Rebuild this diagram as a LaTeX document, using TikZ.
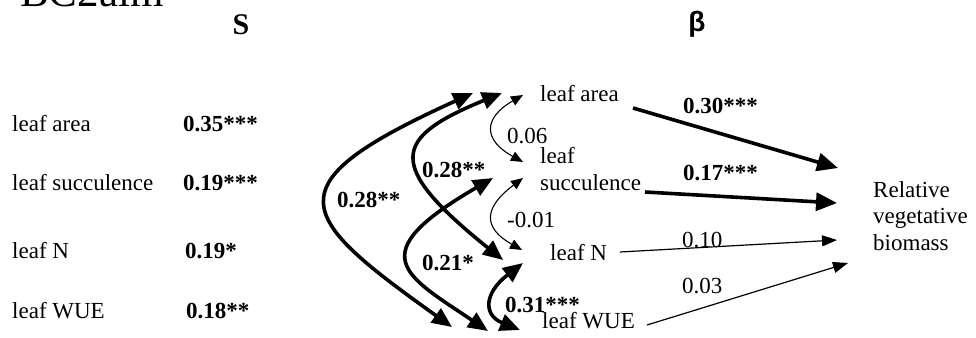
\documentclass[tikz,border=0pt]{standalone}
\usepackage{fontspec}
\setmainfont{Liberation Serif}
\newfontfamily\betafont{Liberation Sans}
\usetikzlibrary{arrows.meta}
\begin{document}
\begin{tikzpicture}[x=1pt,y=-1pt,
  txt/.style={inner sep=0pt, anchor=base west, font=\fontsize{23}{27}\selectfont},
  btxt/.style={txt, font=\fontsize{23}{27}\selectfont\bfseries},
  thickarr/.style={line width=3.6pt, -{Triangle[length=21pt,width=18pt]}},
  thinarr/.style={line width=1.2pt, -{Triangle[length=15pt,width=11pt]}},
  thickcor/.style={line width=3.6pt, {Triangle[length=20pt,width=17pt]}-{Triangle[length=20pt,width=17pt]}},
  thincor/.style={line width=1.1pt, {Triangle[length=12pt,width=10pt]}-{Triangle[length=12pt,width=10pt]}}
]
\useasboundingbox (0,0) rectangle (976,337);
\clip (0,0) rectangle (976,337);
\fill[white] (0,0) rectangle (976,337);

% header
\node[inner sep=0pt, anchor=base west, font=\fontsize{43}{48}\selectfont] (hdr) at (20,7) {BC2alm};
\node[inner sep=0pt, anchor=base, font=\fontsize{30}{34}\selectfont\bfseries] (hS) at (241,35) {S};
\node[inner sep=0pt, anchor=base, font=\fontsize{28}{32}\betafont\bfseries] (hB) at (697,32) {β};

% left column
\node[txt] (la) at (12,131) {leaf area};
\node[txt] (ls) at (12,190) {leaf succulence};
\node[txt] (lN) at (12,258) {leaf N};
\node[txt] (lW) at (12,318) {leaf WUE};
\node[btxt] (s1) at (183,131) {0.35***};
\node[btxt] (s2) at (183,190) {0.19***};
\node[btxt] (s3) at (185,258) {0.19*};
\node[btxt] (s4) at (186,318) {0.18**};

% middle column
\node[txt] (ma) at (540,101) {leaf area};
\node[txt] (msa) at (540,163) {leaf};
\node[txt] (ms) at (540,190) {succulence};
\node[txt] (mN) at (550,260) {leaf N};
\node[txt] (mW) at (542,328) {leaf WUE};

% response
\node[txt] (bio1) at (873,197) {Relative};
\node[txt] (bio2) at (873,223) {vegetative};
\node[txt] (bio3) at (873,250) {biomass};

% coefficient labels
\node[txt] (l06) at (507,143) {0.06};
\node[txt] (l001) at (507,227) {-0.01};
\node[btxt] (l031) at (505,312) {0.31***};
\node[btxt] (l021) at (422,270) {0.21*};
\node[btxt] (l028a) at (337,207) {0.28**};
\node[btxt] (l028b) at (422,177) {0.28**};
\node[btxt] (l030) at (683,113) {0.30***};
\node[btxt] (l017) at (683,180) {0.17***};
\node[txt] (l010) at (682,247) {0.10};
\node[txt] (l003) at (682,293) {0.03};

% connector end points
\coordinate (a1s) at (633,108); \coordinate (a1e) at (838,168);
\coordinate (a2s) at (645,192); \coordinate (a2e) at (837,203);
\coordinate (a3s) at (620,252); \coordinate (a3e) at (837,240);
\coordinate (a4s) at (647,325); \coordinate (a4e) at (848,263);

\coordinate (c1a) at (452,327); \coordinate (c1b) at (473,93);
\coordinate (c2a) at (503,260); \coordinate (c2b) at (502,93);
\coordinate (c3a) at (488,331); \coordinate (c3b) at (493,178);
\coordinate (c4a) at (523,162); \coordinate (c4b) at (523,95);
\coordinate (c5a) at (522,250); \coordinate (c5b) at (523,178);
\coordinate (c6a) at (520,330); \coordinate (c6b) at (523,263);

% path arrows to biomass
\draw[thickarr] (a1s) -- (a1e);
\draw[thickarr] (a2s) -- (a2e);
\draw[thinarr] (a3s) -- (a3e);
\draw[thinarr] (a4s) -- (a4e);

% correlations
\draw[thickcor] (c1a) .. controls (295,215) and (270,185) .. (c1b);
\draw[thickcor] (c2a) .. controls (385,165) and (392,138) .. (c2b);
\draw[thickcor] (c3a) .. controls (405,275) and (360,255) .. (c3b);
\draw[thincor] (c4a) .. controls (483,140) and (483,118) .. (c4b);
\draw[thincor] (c5a) .. controls (483,228) and (483,208) .. (c5b);
\draw[thickcor] (c6a) .. controls (483,315) and (484,293) .. (c6b);
\end{tikzpicture}
\end{document}
